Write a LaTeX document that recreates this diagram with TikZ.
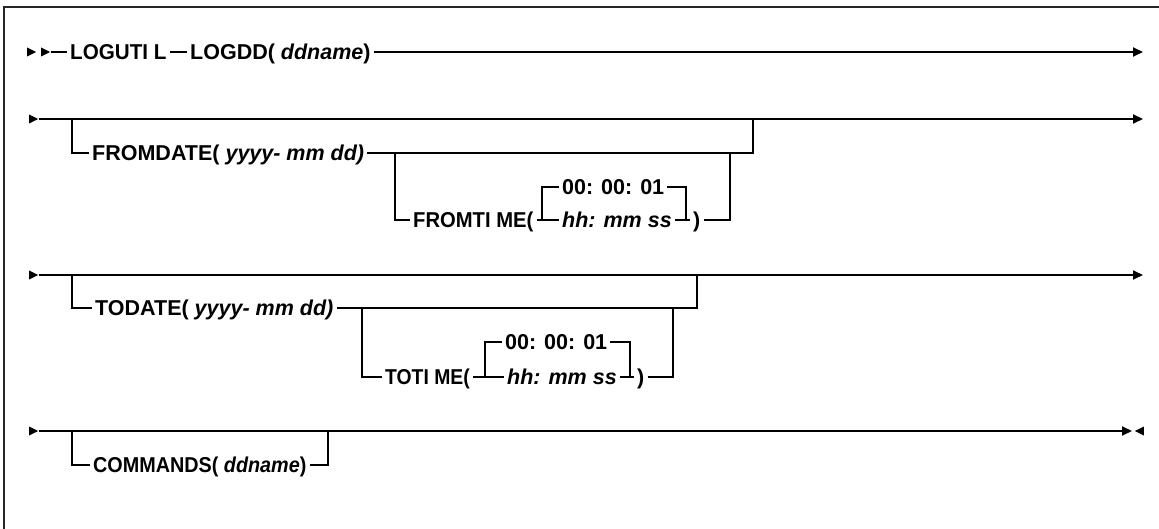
\documentclass[tikz,border=0pt]{standalone}
\usepackage{fontspec}
\setmainfont{Liberation Sans}
\usetikzlibrary{arrows.meta,positioning,shapes.geometric}
\tikzset{
  rail/.style  ={line width=1.8pt},
  flow/.style  ={rail, -{Triangle[length=10pt,width=9pt]}},
  frame/.style ={line width=1.6pt, black!85},
  kw/.style    ={anchor=west, inner xsep=3pt, inner ysep=0pt, text height=15.5pt,
                 text depth=0pt, font=\fontsize{21.5}{25}\selectfont\bfseries},
  tipr/.style  ={isosceles triangle, isosceles triangle stretches, fill,
                 inner sep=0pt, minimum width=9pt, minimum height=9pt},
  tipl/.style  ={tipr, shape border rotate=180},
}
\begin{document}
\begin{tikzpicture}[x=1pt,y=-1pt]
    \useasboundingbox (0,0) rectangle (1159,529);
    \draw[frame] (4,529) -- (4,7) -- (1159,7);

    % LOGUTIL LOGDD(ddname)
    \node[tipr] (s1) at (30,52) {};
    \node[tipr] (s2) at (44,52) {};
    \node[kw] (logutil) at (67,52) {\scalebox{0.96}[1]{LOGUTI L}};
    \node[kw] (logdd) at (187,52) {LOGDD( \textit{ddname})};
    \coordinate (end1) at (1143,52);
    \draw[rail] (s2.east) -- (logutil.west);
    \draw[rail] (logutil.east) -- (logdd.west);
    \draw[flow] (logdd.east) -- (end1);

    % FROMDATE / FROMTIME
    \node[tipr] (s3) at (32,119) {};
    \coordinate (end2) at (1143,119);
    \coordinate (b2) at (72,119);
    \coordinate (j2) at (753,119);
    \node[kw] (fromdate) at (89,153) {FROMDATE( \textit{yyyy- mm dd)}};
    \coordinate (b2b) at (395,153);
    \coordinate (f3) at (730,153);
    \node[kw] (fromtime) at (410,220) {\scalebox{0.94}[1]{FROMTI ME(}};
    \node[kw] (dflt1) at (559,187) {00: 00: 01};
    \node[kw] (hhmm1) at (559,220) {\textit{hh: mm ss}};
    \node[kw] (paren1) at (690,220) {)};
    \coordinate (f1) at (542,220);
    \coordinate (f2) at (686,220);
    \draw[flow] (s3.east) -- (end2);
    \draw[rail] (b2) |- (fromdate.west);
    \draw[rail] (fromdate.east) -| (j2);
    \draw[rail] (b2b) |- (fromtime.west);
    \draw[rail] (fromtime.east) -- (hhmm1.west);
    \draw[rail] (f1) |- (dflt1.west);
    \draw[rail] (dflt1.east) -| (f2);
    \draw[rail] (hhmm1.east) -- (paren1.west);
    \draw[rail] (paren1.east) -| (f3);

    % TODATE / TOTIME
    \node[tipr] (s4) at (32,275) {};
    \coordinate (end3) at (1143,275);
    \coordinate (b3) at (72,275);
    \coordinate (j3) at (697,275);
    \node[kw] (todate) at (92,308) {TODATE( \textit{yyyy- mm dd)}};
    \coordinate (b3b) at (362,308);
    \coordinate (g3) at (673,308);
    \node[kw] (totime) at (382,377) {\scalebox{0.9}[1]{TOTI ME(}};
    \node[kw] (dflt2) at (502,342) {00: 00: 01};
    \node[kw] (hhmm2) at (504,377) {\textit{hh: mm ss}};
    \node[kw] (paren2) at (634,377) {)};
    \coordinate (g1) at (485,377);
    \coordinate (g2) at (630,377);
    \draw[flow] (s4.east) -- (end3);
    \draw[rail] (b3) |- (todate.west);
    \draw[rail] (todate.east) -| (j3);
    \draw[rail] (b3b) |- (totime.west);
    \draw[rail] (totime.east) -- (hhmm2.west);
    \draw[rail] (g1) |- (dflt2.west);
    \draw[rail] (dflt2.east) -| (g2);
    \draw[rail] (hhmm2.east) -- (paren2.west);
    \draw[rail] (paren2.east) -| (g3);

    % COMMANDS
    \node[tipr] (s5) at (32,431) {};
    \node[tipl] (s6) at (1141,431) {};
    \coordinate (end4) at (1132,431);
    \coordinate (b4) at (72,431);
    \coordinate (j4) at (328,431);
    \node[kw] (commands) at (90,465) {\scalebox{0.92}[1]{COMMANDS( \textit{ddname})}};
    \draw[flow] (s5.east) -- (end4);
    \draw[rail] (b4) |- (commands.west);
    \draw[rail] (commands.east) -| (j4);
\end{tikzpicture}
\end{document}
